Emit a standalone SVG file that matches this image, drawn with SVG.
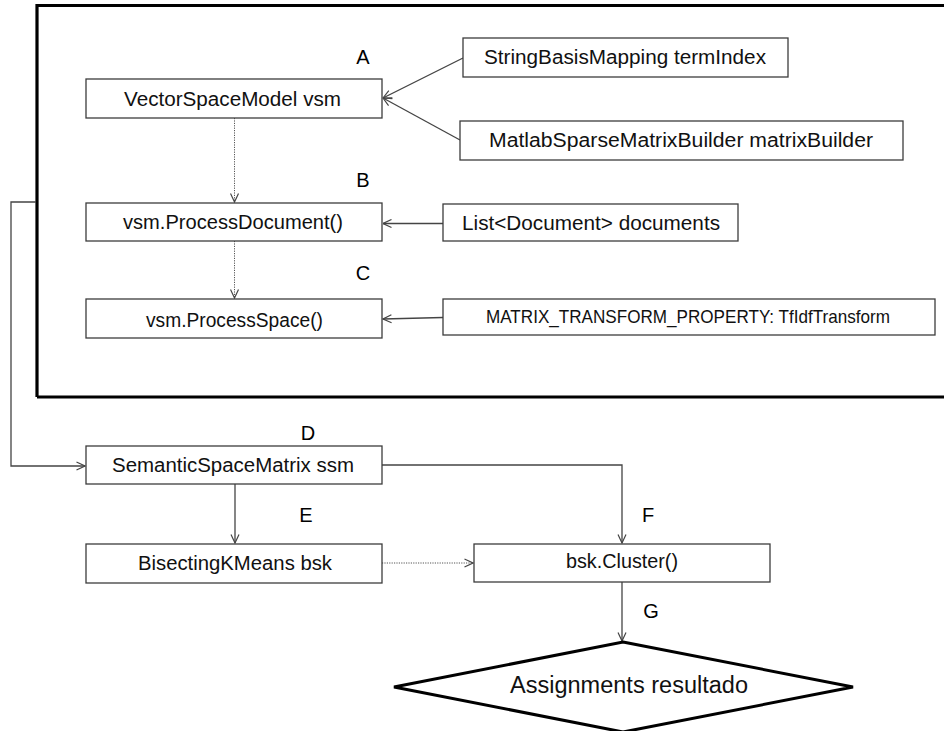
<svg xmlns="http://www.w3.org/2000/svg" width="944" height="731" viewBox="0 0 944 731">
  <style>
    .box { fill: #ffffff; stroke: #3c3c3c; stroke-width: 1.3; }
    .lbl { font-family: "Liberation Sans", Arial, sans-serif; font-size: 20px; fill: #111111; text-anchor: middle; }
    .tag { font-family: "Liberation Sans", Arial, sans-serif; font-size: 20px; fill: #000000; text-anchor: middle; }
    .edge { fill: none; stroke: #444444; stroke-width: 1.3; }
    .dot { fill: none; stroke: #555555; stroke-width: 1; stroke-dasharray: 1.2 1.2; }
  </style>
  <defs>
    <marker id="open" viewBox="0 0 10 10" refX="9.5" refY="5" markerWidth="10" markerHeight="10" markerUnits="userSpaceOnUse" orient="auto">
      <path d="M1,1 L9.5,5 L1,9" fill="none" stroke="#444444" stroke-width="1.2"/>
    </marker>
  </defs>

  <rect width="944" height="731" fill="#ffffff"/>

  <!-- vector space model frame -->
  <g id="frame">
    <path d="M37,397 L37,5.5 L950,5.5 M37,397 L950,397" fill="none" stroke="#000000" stroke-width="3.2"/>
  </g>

  <!-- connectors -->
  <g id="connectors">
    <line class="dot" x1="234.5" y1="118" x2="234.5" y2="202" marker-end="url(#open)"/>
    <line class="dot" x1="234.5" y1="241" x2="234.5" y2="298" marker-end="url(#open)"/>
    <line class="edge" x1="463" y1="58" x2="383" y2="98" marker-end="url(#open)"/>
    <line class="edge" x1="460" y1="140" x2="383" y2="98" marker-end="url(#open)"/>
    <line class="edge" x1="443" y1="223.5" x2="383" y2="223.5" marker-end="url(#open)"/>
    <line class="edge" x1="443" y1="317.5" x2="383" y2="319" marker-end="url(#open)"/>
    <path class="edge" d="M36,202 L11,202 L11,466 L85,466" marker-end="url(#open)"/>
    <line class="edge" x1="235" y1="484" x2="235" y2="543" marker-end="url(#open)"/>
    <path class="edge" d="M382,465 L622,465 L622,543" marker-end="url(#open)"/>
    <line class="dot" x1="382" y1="563" x2="473" y2="563" marker-end="url(#open)"/>
    <line class="edge" x1="622" y1="582" x2="622" y2="641" marker-end="url(#open)"/>
  </g>

  <!-- step letters -->
  <g id="steps">
    <text class="tag" x="363" y="64">A</text>
    <text class="tag" x="363" y="187">B</text>
    <text class="tag" x="363" y="280">C</text>
    <text class="tag" x="308" y="440">D</text>
    <text class="tag" x="306" y="522">E</text>
    <text class="tag" x="648" y="522">F</text>
    <text class="tag" x="651" y="618">G</text>
  </g>

  <g id="vsm">
    <rect class="box" x="86" y="79" width="296" height="39"/>
    <text class="lbl" x="232.5" y="106" textLength="217" lengthAdjust="spacingAndGlyphs">VectorSpaceModel vsm</text>
  </g>
  <g id="termIndex">
    <rect class="box" x="463" y="38" width="325" height="39"/>
    <text class="lbl" x="625" y="64" textLength="282" lengthAdjust="spacingAndGlyphs">StringBasisMapping termIndex</text>
  </g>
  <g id="matrixBuilder">
    <rect class="box" x="460" y="121" width="443" height="39"/>
    <text class="lbl" x="681" y="147" textLength="384" lengthAdjust="spacingAndGlyphs">MatlabSparseMatrixBuilder matrixBuilder</text>
  </g>
  <g id="processDocument">
    <rect class="box" x="86" y="203" width="296" height="38"/>
    <text class="lbl" x="233" y="229" textLength="220" lengthAdjust="spacingAndGlyphs">vsm.ProcessDocument()</text>
  </g>
  <g id="documents">
    <rect class="box" x="443" y="204" width="295" height="37"/>
    <text class="lbl" x="591" y="230" textLength="258" lengthAdjust="spacingAndGlyphs">List&lt;Document&gt; documents</text>
  </g>
  <g id="processSpace">
    <rect class="box" x="86" y="299" width="296" height="39"/>
    <text class="lbl" x="234.5" y="327" textLength="177" lengthAdjust="spacingAndGlyphs">vsm.ProcessSpace()</text>
  </g>
  <g id="transformProperty">
    <rect class="box" x="443" y="299" width="492" height="36"/>
    <text class="lbl" x="688" y="323" style="font-size:19px" textLength="404" lengthAdjust="spacingAndGlyphs">MATRIX_TRANSFORM_PROPERTY: TfIdfTransform</text>
  </g>
  <g id="ssm">
    <rect class="box" x="86" y="446" width="296" height="38"/>
    <text class="lbl" x="233" y="472" textLength="242" lengthAdjust="spacingAndGlyphs">SemanticSpaceMatrix ssm</text>
  </g>
  <g id="bsk">
    <rect class="box" x="86" y="544" width="296" height="39"/>
    <text class="lbl" x="235" y="570" textLength="194" lengthAdjust="spacingAndGlyphs">BisectingKMeans bsk</text>
  </g>
  <g id="cluster">
    <rect class="box" x="474" y="544" width="296" height="38"/>
    <text class="lbl" x="622" y="568" textLength="112" lengthAdjust="spacingAndGlyphs">bsk.Cluster()</text>
  </g>
  <g id="result">
    <polygon points="623,642 853,687 623,732 394,687" fill="#ffffff" stroke="#000000" stroke-width="3"/>
    <text class="lbl" x="629" y="693" style="font-size:23px" textLength="238" lengthAdjust="spacingAndGlyphs">Assignments resultado</text>
  </g>
</svg>
